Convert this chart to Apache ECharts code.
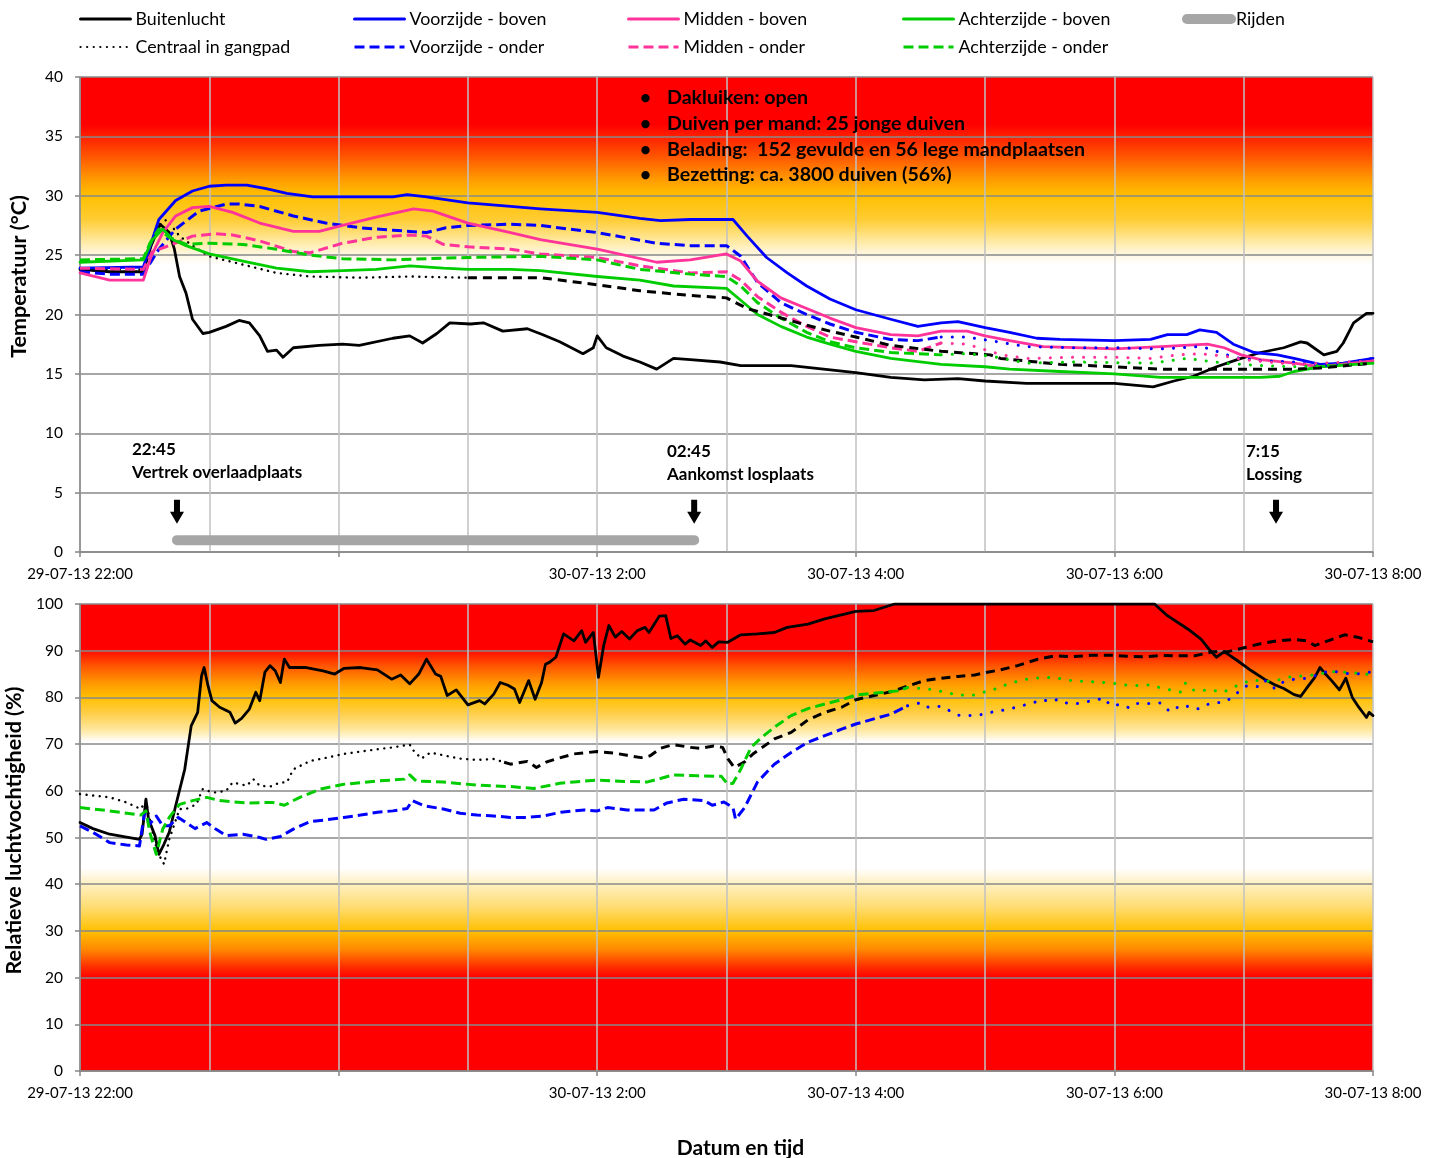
<!DOCTYPE html>
<html><head><meta charset="utf-8">
<script src="https://cdn.jsdelivr.net/npm/echarts/dist/echarts.min.js"></script>
<style>html,body{margin:0;padding:0;background:#fff}#c{width:1441px;height:1158px}</style>
</head><body><div id="c"></div>
<script>
// ---------- DATA (x = hours after 29-07-13 22:00) ----------
const xTickLabels = ['29-07-13 22:00', '', '30-07-13 2:00', '30-07-13 4:00', '30-07-13 6:00', '30-07-13 8:00'];
const legendColumns = [['Buitenlucht','Centraal in gangpad'],['Voorzijde - boven','Voorzijde - onder'],['Midden - boven','Midden - onder'],['Achterzijde - boven','Achterzijde - onder'],['Rijden']];
const infoLines = ['Dakluiken: open','Duiven per mand: 25 jonge duiven','Belading:  152 gevulde en 56 lege mandplaatsen','Bezetting: ca. 3800 duiven (56%)'];
const eventClock = ['22:45','02:45','7:15'];
const eventNames = ['Vertrek overlaadplaats','Aankomst losplaats','Lossing'];
const eventHours = [0.75, 4.75, 9.25];
const rijden = [[0.75,1],[4.75,1]];

const tempBuitenlucht = [[0,23.8],[0.23,23.6],[0.49,23.6],[0.55,25.8],[0.62,27.6],[0.69,26.9],[0.73,25.5],[0.77,23.2],[0.82,21.8],[0.87,19.6],[0.95,18.4],[1.0,18.5],[1.13,19.0],[1.23,19.5],[1.31,19.3],[1.39,18.2],[1.45,16.9],[1.52,17.0],[1.57,16.4],[1.65,17.2],[1.85,17.4],[2.03,17.5],[2.16,17.4],[2.42,18.0],[2.55,18.2],[2.65,17.6],[2.76,18.4],[2.86,19.3],[3.02,19.2],[3.12,19.3],[3.27,18.6],[3.46,18.8],[3.58,18.3],[3.71,17.7],[3.89,16.7],[3.97,17.2],[4.0,18.2],[4.07,17.2],[4.2,16.5],[4.33,16.0],[4.46,15.4],[4.59,16.3],[4.72,16.2],[4.95,16.0],[5.11,15.7],[5.5,15.7],[5.75,15.4],[6.0,15.1],[6.27,14.7],[6.53,14.5],[6.79,14.6],[7.0,14.4],[7.32,14.2],[8.0,14.2],[8.3,13.9],[8.46,14.4],[8.61,14.8],[8.79,15.6],[8.95,16.2],[9.13,16.8],[9.31,17.2],[9.44,17.7],[9.49,17.6],[9.62,16.6],[9.72,16.9],[9.77,17.6],[9.85,19.3],[9.95,20.1],[10,20.1]];
const tempCentraal = [[0,23.8],[0.49,23.8],[0.59,27.3],[0.67,28.0],[0.77,26.6],[0.87,25.8],[1.0,24.9],[1.26,24.2],[1.52,23.5],[1.78,23.2],[2.17,23.1],[2.55,23.2],[3.0,23.1],[3.33,23.1],[3.56,23.1],[3.71,22.9],[4.0,22.5],[4.33,22.0],[4.72,21.6],[5.0,21.4],[5.16,20.5],[5.36,19.9],[5.62,19.1],[5.8,18.6],[6.0,18.1],[6.27,17.4],[6.66,16.9],[7.04,16.6],[7.12,16.3],[7.58,15.8],[8.0,15.6],[8.36,15.4],[9.39,15.4],[9.59,15.5],[10,15.9]];
const tempVoorBoven = [[0,23.9],[0.49,24.0],[0.55,26.0],[0.61,28.0],[0.74,29.6],[0.87,30.4],[1.0,30.8],[1.13,30.9],[1.29,30.9],[1.44,30.6],[1.6,30.2],[1.8,29.9],[2.42,29.9],[2.53,30.1],[2.68,29.9],[3.0,29.4],[3.33,29.1],[3.56,28.9],[4.0,28.6],[4.33,28.1],[4.49,27.9],[4.72,28.0],[5.05,28.0],[5.16,26.6],[5.31,24.8],[5.47,23.5],[5.62,22.4],[5.8,21.3],[6.0,20.4],[6.27,19.6],[6.48,19.0],[6.66,19.3],[6.79,19.4],[7.0,18.9],[7.19,18.5],[7.4,18.0],[7.58,17.9],[8.0,17.8],[8.28,17.9],[8.41,18.3],[8.56,18.3],[8.66,18.7],[8.79,18.5],[8.92,17.5],[9.08,16.8],[9.26,16.6],[9.39,16.3],[9.59,15.8],[9.77,15.9],[10,16.3]];
const tempVoorOnder = [[0,23.6],[0.23,23.4],[0.49,23.4],[0.61,25.5],[0.74,27.2],[0.92,28.7],[1.13,29.3],[1.23,29.3],[1.39,29.1],[1.65,28.3],[1.9,27.7],[2.17,27.3],[2.42,27.1],[2.68,26.9],[2.83,27.3],[3.0,27.5],[3.33,27.6],[3.56,27.5],[4.0,26.9],[4.46,26.0],[4.72,25.8],[5.0,25.8],[5.11,24.9],[5.24,22.7],[5.42,21.0],[5.62,20.0],[5.8,19.2],[6.0,18.5],[6.27,17.9],[6.48,17.8],[6.66,18.1],[6.86,18.1],[7.04,17.8],[7.32,17.3],[7.71,17.2],[8.0,17.2],[8.36,17.1],[8.66,17.3],[8.74,17.1],[8.92,16.4],[9.13,16.1],[9.39,16.0],[9.64,15.7],[10,16.3]];
const tempMidBoven = [[0,23.5],[0.23,22.9],[0.49,22.9],[0.55,24.9],[0.64,26.9],[0.74,28.3],[0.87,29.0],[1.0,29.1],[1.18,28.6],[1.39,27.7],[1.65,27.0],[1.85,27.0],[2.03,27.5],[2.29,28.2],[2.58,28.9],[2.73,28.7],[3.0,27.7],[3.33,26.9],[3.56,26.3],[4.0,25.5],[4.46,24.4],[4.72,24.6],[5.0,25.1],[5.11,24.5],[5.24,22.8],[5.42,21.4],[5.62,20.5],[5.8,19.7],[6.0,18.9],[6.27,18.3],[6.48,18.2],[6.66,18.6],[6.86,18.6],[7.0,18.2],[7.19,17.8],[7.45,17.3],[8.0,17.1],[8.36,17.3],[8.72,17.5],[8.85,17.2],[8.98,16.6],[9.13,16.2],[9.39,15.9],[9.59,15.6],[10,16.1]];
const tempMidOnder = [[0,23.9],[0.49,23.8],[0.56,25.3],[0.69,25.8],[0.87,26.6],[1.05,26.8],[1.18,26.7],[1.39,26.2],[1.65,25.3],[1.78,25.2],[2.03,26.0],[2.29,26.5],[2.55,26.7],[2.68,26.6],[2.81,25.9],[3.0,25.7],[3.33,25.5],[3.56,25.1],[4.0,24.8],[4.33,24.1],[4.72,23.5],[5.0,23.6],[5.11,22.9],[5.24,21.5],[5.42,20.2],[5.62,19.0],[5.8,18.1],[6.0,17.7],[6.27,17.2],[6.48,16.9],[6.66,17.6],[6.86,17.5],[6.95,17.2],[7.13,16.6],[7.32,16.3],[7.71,16.4],[8.0,16.4],[8.28,16.3],[8.49,16.6],[8.66,16.7],[8.85,16.5],[9.0,16.2],[9.39,15.8],[10,16.1]];
const tempAchterBoven = [[0,24.4],[0.49,24.6],[0.56,26.3],[0.64,27.2],[0.72,26.3],[0.82,25.8],[1.0,25.1],[1.26,24.5],[1.52,23.9],[1.78,23.6],[2.03,23.7],[2.29,23.8],[2.55,24.1],[2.81,23.9],[3.0,23.8],[3.33,23.8],[3.56,23.7],[4.0,23.2],[4.33,22.9],[4.59,22.4],[5.0,22.2],[5.11,21.2],[5.24,20.0],[5.42,19.0],[5.62,18.1],[5.8,17.5],[6.0,16.9],[6.27,16.3],[6.66,15.8],[7.0,15.6],[7.19,15.4],[7.58,15.2],[8.0,15.0],[8.36,14.7],[9.13,14.7],[9.28,14.8],[9.39,15.2],[9.59,15.6],[10,15.9]];
const tempAchterOnder = [[0,24.6],[0.49,24.7],[0.54,26.0],[0.61,27.2],[0.69,26.5],[0.82,25.9],[1.0,26.0],[1.26,25.9],[1.52,25.5],[1.78,25.0],[2.03,24.7],[2.42,24.6],[2.68,24.7],[3.0,24.8],[3.56,24.9],[4.0,24.6],[4.33,23.8],[4.72,23.4],[5.0,23.2],[5.11,22.4],[5.24,21.0],[5.42,19.7],[5.62,18.5],[5.8,17.7],[6.0,17.2],[6.27,16.8],[6.66,16.6],[6.86,16.7],[7.04,16.5],[7.32,15.9],[7.71,16.0],[8.28,15.9],[8.56,16.3],[8.85,15.9],[9.13,15.7],[9.39,15.6],[10,15.9]];

const rhBuitenlucht = [[0,53.2],[0.1,51.9],[0.23,50.7],[0.36,50.1],[0.46,49.6],[0.48,50.7],[0.51,58.2],[0.53,53.9],[0.58,50.4],[0.61,46.4],[0.65,48.6],[0.69,51.1],[0.74,56.8],[0.81,64.6],[0.86,73.9],[0.91,76.8],[0.94,84.6],[0.96,86.4],[0.99,82.5],[1.02,79.3],[1.08,77.9],[1.16,76.8],[1.2,74.5],[1.25,75.5],[1.31,77.5],[1.36,81.1],[1.39,79.3],[1.43,85.4],[1.47,86.8],[1.51,85.7],[1.55,83.2],[1.58,88.2],[1.62,86.4],[1.75,86.4],[1.88,85.7],[1.97,85.0],[2.04,86.2],[2.17,86.4],[2.3,85.9],[2.41,83.9],[2.48,84.8],[2.55,82.9],[2.62,85.0],[2.68,88.2],[2.75,85.0],[2.79,84.5],[2.84,80.4],[2.91,81.6],[3.0,78.4],[3.09,79.3],[3.13,78.6],[3.2,80.7],[3.25,83.2],[3.31,82.6],[3.36,81.8],[3.4,78.9],[3.47,83.6],[3.52,79.6],[3.57,83.2],[3.6,87.1],[3.63,87.5],[3.68,88.6],[3.74,93.6],[3.82,92.1],[3.88,94.3],[3.91,91.8],[3.97,93.9],[4.01,84.3],[4.05,91.1],[4.09,95.4],[4.14,92.9],[4.19,94.1],[4.25,92.5],[4.31,94.3],[4.37,95.0],[4.4,93.9],[4.48,97.4],[4.53,97.5],[4.57,92.6],[4.62,93.2],[4.68,91.4],[4.72,92.3],[4.8,91.1],[4.84,92.1],[4.89,90.7],[4.94,91.9],[5.01,91.8],[5.11,93.4],[5.24,93.6],[5.37,93.9],[5.47,95.0],[5.63,95.7],[5.76,96.8],[6.0,98.4],[6.14,98.6],[6.3,100],[8.31,100],[8.41,97.5],[8.57,94.6],[8.67,92.5],[8.73,90.4],[8.79,88.6],[8.85,89.8],[8.95,87.9],[9.06,85.7],[9.16,83.9],[9.24,82.7],[9.31,81.9],[9.39,80.6],[9.44,80.2],[9.49,82.1],[9.55,84.3],[9.59,86.4],[9.62,85.4],[9.68,83.6],[9.74,81.6],[9.79,84.1],[9.84,80.0],[9.89,77.9],[9.95,75.7],[9.97,76.8],[10,76.1]];
const rhCentraal = [[0,59.3],[0.23,58.6],[0.36,57.5],[0.47,56.1],[0.51,57.9],[0.55,52.5],[0.6,46.8],[0.65,44.3],[0.69,49.6],[0.77,56.1],[0.82,56.1],[0.9,57.1],[0.95,60.4],[1.03,59.6],[1.13,60.0],[1.18,61.8],[1.29,61.1],[1.34,62.5],[1.39,61.1],[1.47,60.9],[1.55,61.8],[1.6,61.8],[1.65,64.6],[1.78,66.4],[1.91,67.1],[2.04,67.9],[2.17,68.4],[2.3,68.9],[2.42,69.3],[2.55,69.9],[2.58,68.6],[2.64,66.9],[2.71,68.2],[2.81,67.6],[2.94,66.9],[3.07,66.6],[3.2,66.8],[3.28,66.1],[3.33,65.7],[3.46,66.3],[3.53,65.0],[3.61,66.2],[3.69,66.9],[3.82,67.9],[4.0,68.4],[4.13,68.1],[4.23,67.6],[4.34,67.1],[4.41,67.5],[4.49,69.1],[4.59,69.9],[4.72,69.3],[4.8,69.1],[4.9,69.6],[4.97,69.3],[5.01,66.9],[5.06,65.0],[5.14,66.2],[5.21,68.0],[5.37,71.1],[5.5,72.5],[5.63,75.2],[5.76,76.8],[5.89,77.9],[6.0,79.5],[6.14,80.4],[6.27,81.2],[6.4,82.4],[6.53,83.6],[6.66,84.1],[6.79,84.5],[6.92,84.8],[7.0,85.3],[7.12,85.9],[7.25,86.8],[7.41,88.2],[7.54,88.9],[7.66,88.7],[7.82,89.0],[8.0,89.0],[8.1,88.8],[8.23,88.7],[8.36,89.0],[8.49,88.9],[8.62,88.9],[8.77,89.8],[8.88,89.8],[9.01,90.7],[9.13,91.5],[9.26,92.1],[9.39,92.4],[9.49,92.1],[9.55,91.1],[9.65,92.1],[9.78,93.4],[9.88,92.9],[10,91.9]];
const rhAchterOnder = [[0,56.4],[0.23,55.7],[0.47,54.8],[0.51,55.7],[0.54,51.1],[0.59,46.4],[0.64,51.8],[0.69,54.3],[0.77,57.1],[0.87,57.9],[0.98,58.6],[1.08,57.9],[1.29,57.4],[1.49,57.5],[1.58,56.9],[1.7,58.6],[1.86,60.4],[2.04,61.4],[2.3,62.1],[2.51,62.5],[2.55,63.4],[2.6,62.1],[2.81,61.9],[3.07,61.2],[3.33,60.9],[3.51,60.5],[3.71,61.6],[3.82,61.9],[4.0,62.3],[4.21,62.0],[4.39,61.9],[4.59,63.4],[4.78,63.2],[4.96,63.1],[5.01,61.4],[5.05,61.6],[5.11,64.6],[5.19,69.3],[5.27,71.4],[5.37,73.6],[5.5,76.1],[5.63,77.6],[5.76,78.6],[5.89,79.5],[6.0,80.5],[6.14,80.9],[6.33,81.4],[6.4,82.1],[6.56,81.8],[6.66,81.3],[6.79,80.5],[6.92,80.5],[7.0,81.2],[7.09,81.9],[7.18,82.9],[7.27,83.6],[7.36,84.1],[7.54,84.3],[7.63,83.7],[7.79,83.4],[7.97,83.1],[8.13,82.5],[8.28,82.7],[8.36,82.0],[8.52,81.1],[8.55,83.1],[8.62,81.4],[8.75,81.6],[8.84,81.1],[8.98,82.9],[9.06,83.7],[9.22,83.4],[9.39,84.6],[9.49,84.6],[9.68,85.5],[9.78,85.4],[9.88,85.2],[10,84.8]];
const rhVoorOnder = [[0,52.5],[0.1,51.1],[0.23,48.9],[0.36,48.4],[0.46,48.2],[0.5,55.4],[0.54,52.9],[0.59,54.6],[0.64,52.5],[0.69,52.5],[0.76,54.3],[0.82,53.2],[0.89,51.9],[0.98,53.2],[1.05,51.8],[1.13,50.4],[1.26,50.7],[1.39,50.0],[1.44,49.6],[1.55,50.2],[1.65,51.8],[1.78,53.4],[1.91,53.8],[2.04,54.3],[2.17,54.8],[2.3,55.4],[2.42,55.7],[2.53,56.2],[2.57,57.9],[2.66,56.8],[2.81,56.1],[2.94,55.2],[3.07,54.8],[3.2,54.6],[3.33,54.3],[3.46,54.3],[3.58,54.6],[3.72,55.4],[3.9,55.9],[4.0,55.7],[4.08,56.4],[4.23,55.9],[4.44,55.9],[4.54,57.4],[4.67,58.2],[4.83,57.9],[4.89,56.9],[4.98,57.6],[5.05,56.4],[5.07,53.9],[5.14,56.4],[5.24,61.9],[5.37,65.7],[5.5,68.2],[5.63,70.4],[5.76,71.8],[5.89,73.2],[6.0,74.3],[6.14,75.4],[6.27,76.4],[6.4,78.2],[6.51,78.9],[6.56,77.9],[6.66,78.1],[6.79,76.2],[6.94,76.1],[7.02,76.7],[7.11,77.1],[7.2,77.6],[7.28,78.2],[7.37,78.8],[7.43,79.5],[7.52,79.1],[7.56,79.6],[7.63,78.8],[7.72,78.7],[7.79,79.1],[7.87,79.5],[7.92,79.9],[7.97,78.2],[8.05,78.5],[8.12,77.7],[8.18,78.7],[8.27,78.7],[8.36,78.8],[8.43,76.9],[8.49,77.9],[8.54,78.4],[8.61,77.5],[8.66,77.6],[8.71,78.4],[8.77,78.9],[8.85,78.9],[8.93,80.4],[8.99,82.1],[9.03,82.5],[9.11,82.3],[9.16,83.7],[9.24,81.9],[9.31,83.4],[9.39,83.9],[9.49,84.1],[9.57,84.8],[9.66,85.7],[9.75,85.4],[9.84,84.9],[9.93,85.2],[10,85.5]];

// ---------- STYLE ----------
const FONT = "Lato, 'Liberation Sans', sans-serif";
const BLACK = '#000000', BLUE = '#0000FF', PINK = '#FF3399', GREEN = '#00CC00', GREY = '#A6A6A6';
const SOLID = {type:'solid', width:2.8, cap:'round'};
const DOT = {type:[0.1,6.5], width:2.4, cap:'round'};
const DASH = {type:[10,5], width:3, cap:'butt'};
const DASH_LATE = {type:[9,6], width:3, cap:'butt'};
const DOT_LATE = {type:[0.1,11], width:3, cap:'round'};

function splitAt(data, t) {
  let i = data.findIndex(p => p[0] > t);
  if (i < 0) i = data.length;
  return [data.slice(0, i), data.slice(Math.max(0, i - 1))];
}
function ln(name, data, color, st, g) {
  return {
    name, type:'line', data, xAxisIndex: g === 0 ? 0 : 2, yAxisIndex: g,
    symbol:'none', showSymbol:false, animation:false, silent:true, smooth:false,
    lineStyle:{color, width:st.width, type:st.type, cap:st.cap, join:'round'},
    itemStyle:{color}
  };
}

const [tcA, tcB] = splitAt(tempCentraal, 3.3);
const [tvoA, tvoB] = splitAt(tempVoorOnder, 6.7);
const [tmoA, tmoB] = splitAt(tempMidOnder, 6.7);
const [taoA, taoB] = splitAt(tempAchterOnder, 6.7);
const [rcA, rcB] = splitAt(rhCentraal, 3.3);
const [rvoA, rvoB] = splitAt(rhVoorOnder, 6.4);
const [raoA, raoB] = splitAt(rhAchterOnder, 6.4);

const series = [
  ln('Buitenlucht', tempBuitenlucht, BLACK, SOLID, 0),
  ln('Centraal in gangpad', tcA, BLACK, DOT, 0),
  ln('Voorzijde - boven', tempVoorBoven, BLUE, SOLID, 0),
  ln('Voorzijde - onder', tvoA, BLUE, DASH, 0),
  ln('Midden - boven', tempMidBoven, PINK, SOLID, 0),
  ln('Midden - onder', tmoA, PINK, DASH, 0),
  ln('Achterzijde - boven', tempAchterBoven, GREEN, SOLID, 0),
  ln('Achterzijde - onder', taoA, GREEN, DASH, 0),
  ln('Rijden', rijden, GREY, {type:'solid', width:10, cap:'round'}, 0),
  ln('Centraal in gangpad', tcB, BLACK, DASH_LATE, 0),
  ln('Voorzijde - onder', tvoB, BLUE, DOT_LATE, 0),
  ln('Midden - onder', tmoB, PINK, DOT_LATE, 0),
  ln('Achterzijde - onder', taoB, GREEN, DOT_LATE, 0),
  ln('Buitenlucht', rhBuitenlucht, BLACK, SOLID, 1),
  ln('Centraal in gangpad', rcA, BLACK, DOT, 1),
  ln('Centraal in gangpad', rcB, BLACK, DASH_LATE, 1),
  ln('Voorzijde - onder', rvoA, BLUE, DASH, 1),
  ln('Voorzijde - onder', rvoB, BLUE, DOT_LATE, 1),
  ln('Achterzijde - onder', raoA, GREEN, DASH, 1),
  ln('Achterzijde - onder', raoB, GREEN, DOT_LATE, 1),
  {
    type:'scatter', xAxisIndex:0, yAxisIndex:0, silent:true, animation:false,
    data: eventHours.map(h => [h, 3.4]),
    symbol:'path://M4,0 L10,0 L10,12 L14,12 L7,24 L0,12 L4,12 Z', symbolSize:[14,24],
    itemStyle:{color:'#000', opacity:1}, z:5
  }
];

const grad = (stops) => new echarts.graphic.LinearGradient(0,0,0,1, stops.map(s => ({offset:s[0], color:s[1]})));
const topBg = grad([[0,'#FF0000'],[0.1,'#FF0000'],[0.165,'#FF5200'],[0.215,'#FF9A00'],[0.25,'#FFC000'],[0.30,'#FFCC33'],[0.345,'#FFE9A0'],[0.375,'#FFF8E6'],[0.395,'#FFFFFF'],[1,'#FFFFFF']]);
const botBg = grad([[0,'#FF0000'],[0.095,'#FF0000'],[0.13,'#FF5000'],[0.17,'#FF9900'],[0.2,'#FFC000'],[0.23,'#FFCC40'],[0.27,'#FFE8A0'],[0.295,'#FFFFFF'],[0.565,'#FFFFFF'],[0.6,'#FFF0C0'],[0.65,'#FFDC70'],[0.7,'#FFC000'],[0.74,'#FF8800'],[0.775,'#FF3300'],[0.8,'#FF0000'],[1,'#FF0000']]);

function xAxes(g) {
  return [
    {gridIndex:g, type:'value', min:0, max:10, interval:1, position:'bottom',
     axisLine:{show:true, lineStyle:{color:'#868686', width:1.5}}, axisTick:{show:false}, axisLabel:{show:false},
     splitLine:{show:true, lineStyle:{color:'#C0C0C0', width:1.5}}},
    {gridIndex:g, type:'value', min:0, max:10, interval:2, position:'bottom',
     axisLine:{show:false}, axisTick:{show:true, length:5, lineStyle:{color:'#868686', width:1.5}},
     splitLine:{show:false},
     axisLabel:{show:true, margin:15, color:'#000', fontFamily:FONT, fontSize:15, formatter: v => xTickLabels[Math.round(v/2)] || ''},
     name: g === 1 ? 'Datum en tijd' : '', nameLocation:'middle', nameGap:67,
     nameTextStyle:{fontFamily:FONT, fontWeight:'bold', fontSize:21, color:'#000', padding:[0,0,0,28]}}
  ];
}
function yAxis(g, max, interval, name, shift) {
  return {gridIndex:g, type:'value', min:0, max, interval,
    axisLine:{show:true, lineStyle:{color:'#868686', width:1.5}},
    axisTick:{show:true, length:5, lineStyle:{color:'#868686', width:1.5}},
    axisLabel:{color:'#000', fontFamily:FONT, fontSize:15.5, margin:17},
    splitLine:{show:true, lineStyle:{color:'#888888', width:1.5}},
    name, nameLocation:'middle', nameRotate:90, nameGap:50,
    nameTextStyle:{fontFamily:FONT, fontWeight:'bold', fontSize:21.5, color:'#000', padding:[0,0,0,shift]}};
}

const legendLefts = [79, 353, 627, 902];
const legends = legendColumns.slice(0, 4).map((names, i) => ({
  orient:'vertical', left:legendLefts[i], top:10, padding:0, itemWidth:50, itemHeight:14, itemGap:10,
  data:names.map(n => n === 'Centraal in gangpad' ? {name:n, lineStyle:{width:2.2}} : n),
  selectedMode:false, itemStyle:{opacity:0}, lineStyle:{width:3},
  textStyle:{fontFamily:FONT, fontSize:17.8, color:'#000'}
}));
legends.push({
  orient:'vertical', left:1182, top:10, padding:0, itemWidth:44, itemHeight:14, itemGap:10,
  data:legendColumns[4], selectedMode:false, itemStyle:{opacity:0},
  lineStyle:{width:10, cap:'round'},
  textStyle:{fontFamily:FONT, fontSize:17.8, color:'#000'}
});

const graphics = [];
infoLines.forEach((t, i) => {
  const y = 98 + i * 25.7;
  graphics.push({type:'text', x:640, y, style:{text:'•', font:'bold 19px ' + FONT, fill:'#000', verticalAlign:'middle'}, z:10});
  graphics.push({type:'text', x:667, y, style:{text:t, font:'bold 19.6px ' + FONT, fill:'#000', verticalAlign:'middle'}, z:10});
});
const eventTextX = [132, 667, 1246];
eventClock.forEach((t, i) => {
  const dy = i === 0 ? 0 : 2;
  graphics.push({type:'text', x:eventTextX[i], y:450 + dy, style:{text:t, font:'bold 17px ' + FONT, fill:'#000', verticalAlign:'middle'}, z:10});
  graphics.push({type:'text', x:eventTextX[i], y:473 + dy, style:{text:eventNames[i], font:'bold 17px ' + FONT, fill:'#000', verticalAlign:'middle'}, z:10});
});

const chart = echarts.init(document.getElementById('c'), null, {renderer:'canvas'});
chart.setOption({
  backgroundColor:'#fff',
  animation:false,
  legend: legends,
  grid:[
    {left:80, right:68, top:77, height:475, show:true, backgroundColor:topBg, borderWidth:0, outerBoundsMode:'none', containLabel:false},
    {left:80, right:68, top:604, height:467, show:true, backgroundColor:botBg, borderWidth:0, outerBoundsMode:'none', containLabel:false}
  ],
  xAxis:[...xAxes(0), ...xAxes(1)],
  yAxis:[yAxis(0, 40, 5, 'Temperatuur (°C)', 76), yAxis(1, 100, 10, 'Relatieve luchtvochtigheid (%)', 14)],
  series,
  graphic: graphics
});
</script>
</body></html>
